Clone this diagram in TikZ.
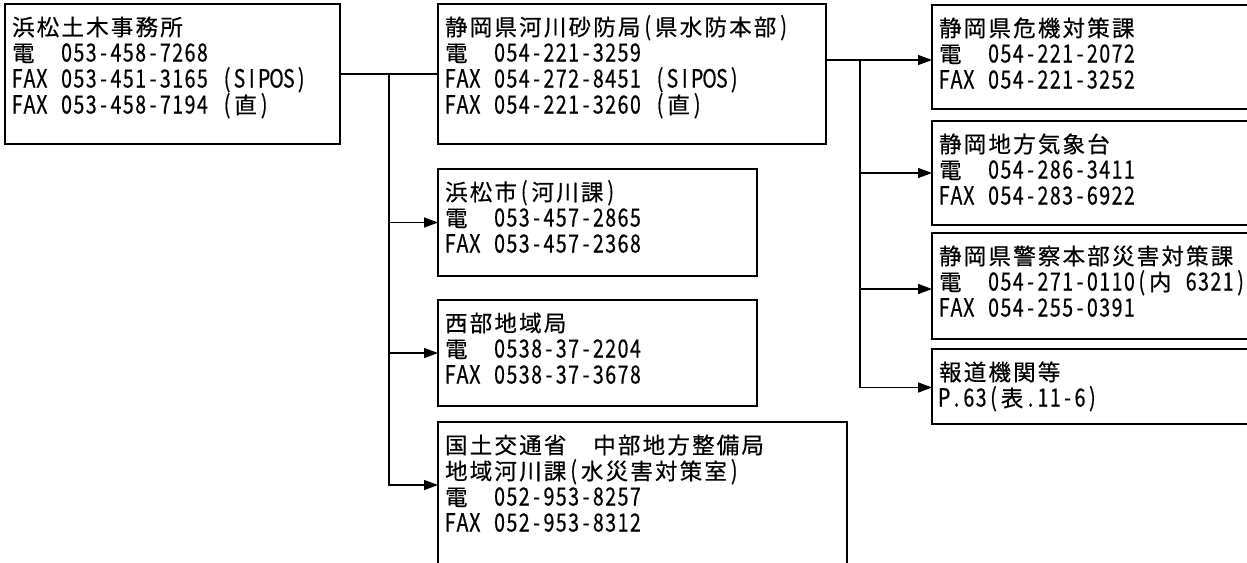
\documentclass[tikz,border=0pt]{standalone}
\usepackage{fontspec}
\setmainfont{Noto Sans CJK JP}[FakeBold=0.5]
\newfontfamily\latfam{Noto Sans CJK JP}[FakeStretch=0.78,FakeBold=0.5]
\def\latf{\fontsize{25pt}{26pt}\latfam}
\usetikzlibrary{arrows.meta,calc}
\newlength\fw \setlength\fw{24.7pt}
\newlength\hw \setlength\hw{12.35pt}
\def\Tloop#1{\ifx#1\relax\else\Tchar{#1}\expandafter\Tloop\fi}
\def\Tchar#1{\ifx#1|\hbox to\hw{}\else\ifnum`#1<128 \hbox to\hw{\hss{\latf #1}\hss}\else\hbox to\fw{\hss#1\hss}\fi\fi}
\def\T#1{\Tloop#1\relax}
\def\Ln#1{\hbox{\kern6pt\T{#1}}}
\newcommand\txtbox[3]{\vbox to #2{\baselineskip=26pt\lineskiplimit=-100pt\lineskip=0pt\hbox to #1{}\vskip5.5pt #3\vss}}
\tikzset{
  box/.style={draw, line width=1.5pt, inner sep=0pt, outer sep=0pt, anchor=north west, font=\fontsize{22.5pt}{26pt}\selectfont},
  ln/.style={line width=1.5pt},
  arr/.style={line width=1.5pt, -{Triangle[length=14pt,width=10pt]}}
}
\begin{document}
\begin{tikzpicture}[x=1pt,y=-1pt]
\useasboundingbox (0,0) rectangle (1247,562);
\fill[white] (0,0) rectangle (1247,562);
\clip (0,0) rectangle (1247,562);
% left column
\node[box] (b1) at (5,4) {\txtbox{335pt}{140pt}{\Ln{浜松土木事務所}\Ln{電　053-458-7268}\Ln{FAX|053-451-3165|(SIPOS)}\Ln{FAX|053-458-7194|(直)}}};
% middle column
\node[box] (b2) at (438,4) {\txtbox{388pt}{140pt}{\Ln{静岡県河川砂防局(県水防本部)}\Ln{電　054-221-3259}\Ln{FAX|054-272-8451|(SIPOS)}\Ln{FAX|054-221-3260|(直)}}};
\node[box] (b3) at (438,169) {\txtbox{319pt}{107pt}{\Ln{浜松市(河川課)}\Ln{電　053-457-2865}\Ln{FAX|053-457-2368}}};
\node[box] (b4) at (438,300) {\txtbox{319pt}{106pt}{\Ln{西部地域局}\Ln{電　0538-37-2204}\Ln{FAX|0538-37-3678}}};
\node[box] (b5) at (438,422) {\txtbox{409pt}{150pt}{\Ln{国土交通省　中部地方整備局}\Ln{地域河川課(水災害対策室)}\Ln{電　052-953-8257}\Ln{FAX|052-953-8312}}};
% right column
\node[box] (ra) at (932,5) {\txtbox{330pt}{104pt}{\Ln{静岡県危機対策課}\Ln{電　054-221-2072}\Ln{FAX|054-221-3252}}};
\node[box] (rb) at (932,121) {\txtbox{330pt}{104pt}{\Ln{静岡地方気象台}\Ln{電　054-286-3411}\Ln{FAX|054-283-6922}}};
\node[box] (rc) at (932,233) {\txtbox{330pt}{106pt}{\Ln{静岡県警察本部災害対策課}\Ln{電　054-271-0110(内|6321)}\Ln{FAX|054-255-0391}}};
\node[box] (rd) at (932,349) {\txtbox{330pt}{75pt}{\Ln{報道機関等}\Ln{P.63(表.11-6)}}};
% left connectors
\coordinate (j1) at ($(b1.east)!0.5!(b2.west)$);
\draw[ln] (b1.east) -- (b2.west);
\coordinate (e5) at ($(b5.north west)+(0,63)$);
\draw[arr] (j1) |- (e5);
\draw[arr] (j1 |- b3.west) -- (b3.west);
\draw[arr] (j1 |- b4.west) -- (b4.west);
% right connectors
\coordinate (ea) at ($(ra.west)+(0,3)$);
\coordinate (j2) at ($(b2.east |- ea)+(34,0)$);
\coordinate (ec) at ($(rc.west)+(0,3)$);
\coordinate (ed) at ($(rd.west)+(0,1)$);
\draw[arr] (b2.east |- ea) -- (ea);
\draw[arr] (j2) |- (ed);
\draw[arr] (j2 |- rb.west) -- (rb.west);
\draw[arr] (j2 |- ec) -- (ec);
\end{tikzpicture}
\end{document}
